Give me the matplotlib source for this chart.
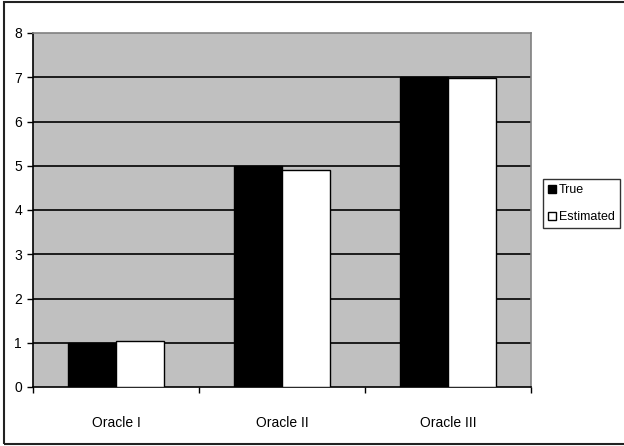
import numpy as np
import matplotlib
matplotlib.use("Agg")
import matplotlib.pyplot as plt
from matplotlib.patches import Rectangle

plt.rcParams['font.family'] = ['Liberation Sans Narrow', 'Liberation Sans', 'DejaVu Sans']

oracles = ['Oracle I', 'Oracle II', 'Oracle III']
true_vals = [1, 5, 7]
estimated_vals = [1.04, 4.9, 6.98]
y_ticks = [0, 1, 2, 3, 4, 5, 6, 7, 8]

W, H = 624, 446
fig = plt.figure(figsize=(W / 100, H / 100), dpi=100)
fig.patch.set_facecolor('white')

# plot area in pixel terms
left, right, top, bottom = 33, 531, 33, 387
ax = fig.add_axes([left / W, 1 - bottom / H, (right - left) / W, (bottom - top) / H])
ax.set_facecolor('#c0c0c0')

x = np.arange(len(oracles))
bw = 0.29
ax.bar(x - bw / 2, true_vals, bw, color='black', edgecolor='black', linewidth=1, label='True', zorder=3)
ax.bar(x + bw / 2, estimated_vals, bw, color='white', edgecolor='black', linewidth=1, label='Estimated', zorder=3)

ax.set_xlim(-0.5, len(oracles) - 0.5)
ax.set_ylim(0, 8)

# horizontal grid
ax.set_yticks(y_ticks)
for v in y_ticks[1:-1]:
    ax.axhline(v, color='black', linewidth=1.2, zorder=1)

ax.tick_params(axis='y', direction='out', length=4, width=1, labelsize=10, pad=4)

# boundaries get tick marks, centres carry labels
ax.set_xticks(np.arange(len(oracles) + 1) - 0.5)
ax.set_xticklabels([])
ax.set_xticks(x, minor=True)
ax.set_xticklabels(oracles, minor=True)
ax.tick_params(axis='x', which='major', direction='out', length=4, width=1)
ax.tick_params(axis='x', which='minor', length=0, labelsize=10, pad=21)

for side in ['left', 'bottom']:
    ax.spines[side].set_color('black')
    ax.spines[side].set_linewidth(1.2)
for side in ['top', 'right']:
    ax.spines[side].set_color('#808080')
    ax.spines[side].set_linewidth(1.2)

leg = ax.legend(loc='upper left', bbox_to_anchor=(543 / W, 1 - 179 / H),
                bbox_transform=fig.transFigure, frameon=True, fancybox=False,
                edgecolor='black', fontsize=9, handlelength=0.6, handleheight=0.6,
                handletextpad=0.25, borderpad=0.4, labelspacing=1.2, borderaxespad=0)
leg.get_frame().set_linewidth(1)

# outer chart border
fig.patches.append(Rectangle((4 / W, 2 / H), 1.0, (H - 4) / H, transform=fig.transFigure,
                             fill=False, edgecolor='#222222', linewidth=1.5))

fig.savefig('out.png', dpi=100)
